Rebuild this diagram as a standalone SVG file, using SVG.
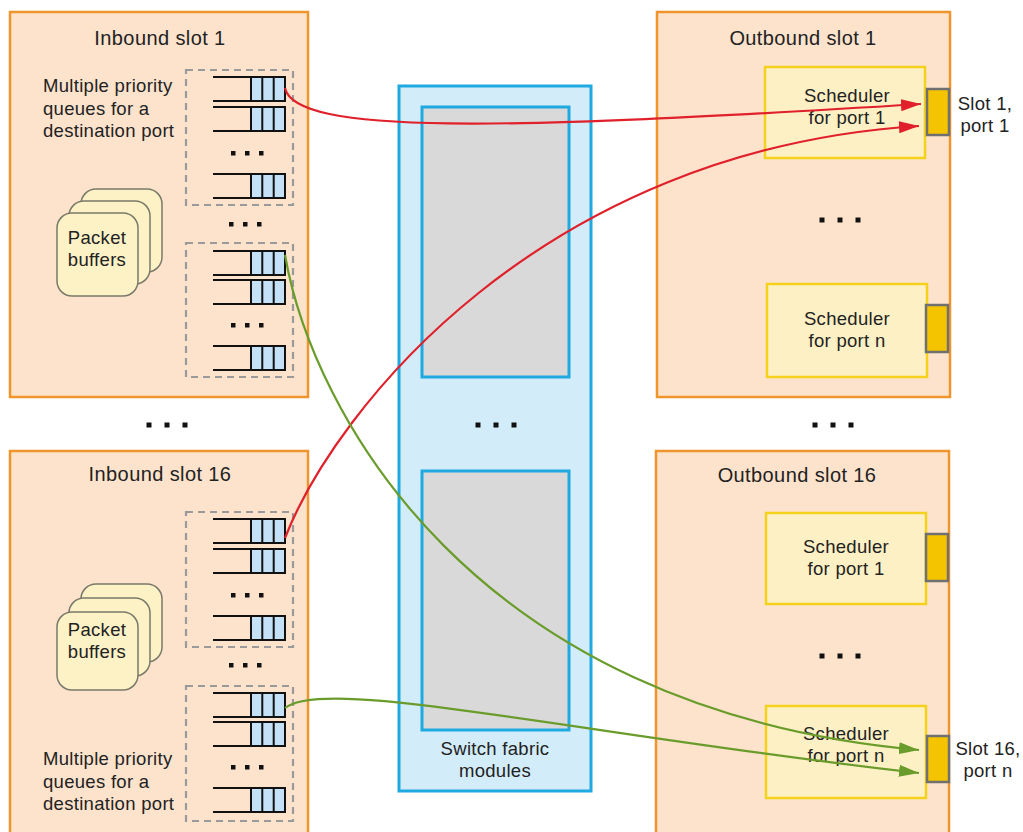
<svg xmlns="http://www.w3.org/2000/svg" xmlns:xlink="http://www.w3.org/1999/xlink" width="1023" height="832" viewBox="0 0 1023 832">
<style>
text{font-family:"Liberation Sans",Arial,sans-serif;fill:#222}
.title{font-size:20px;letter-spacing:0.4px;text-anchor:middle}
.lbl{font-size:18.5px;letter-spacing:0.3px}
.mid{text-anchor:middle}
.slot{fill:#fde3cc;stroke:#f0952c;stroke-width:2.5}
.dash{fill:none;stroke:#9a9a9a;stroke-width:2.2;stroke-dasharray:7 5}
.buf{fill:#fdf1c6;stroke:#7a7a6a;stroke-width:1.5}
.sched{fill:#fdf0c4;stroke:#f4d21c;stroke-width:2.5}
.port{fill:#f5c400;stroke:#707070;stroke-width:2.5}
.fab{fill:#d3ecf9;stroke:#1fa9e1;stroke-width:3}
.mod{fill:#d9d9d9;stroke:#1fa9e1;stroke-width:3}
.red{fill:none;stroke:#e0202a;stroke-width:2.2}
.grn{fill:none;stroke:#6a9c2c;stroke-width:2.2}
</style>
<defs>
<g id="q">
<rect x="38" y="0" width="34" height="24" fill="#c4e1f8" stroke="none"/>
<path d="M0 0H72V24H0M38 0V24M49.3 0V24M60.7 0V24" fill="none" stroke="#111" stroke-width="2"/>
</g>
<g id="d3"><rect x="-2" y="-2" width="4.5" height="4.5" fill="#111"/><rect x="12" y="-2" width="4.5" height="4.5" fill="#111"/><rect x="26" y="-2" width="4.5" height="4.5" fill="#111"/></g>
<g id="d3b"><rect x="-2.5" y="-2.5" width="5" height="5" fill="#111"/><rect x="15.5" y="-2.5" width="5" height="5" fill="#111"/><rect x="33.5" y="-2.5" width="5" height="5" fill="#111"/></g>
<marker id="ar" viewBox="0 0 20 12" refX="20" refY="6" markerWidth="20" markerHeight="12" markerUnits="userSpaceOnUse" orient="auto"><path d="M0 0L20 6L0 12Z" fill="#e0202a"/></marker>
<marker id="ag" viewBox="0 0 20 12" refX="20" refY="6" markerWidth="20" markerHeight="12" markerUnits="userSpaceOnUse" orient="auto"><path d="M0 0L20 6L0 12Z" fill="#6a9c2c"/></marker>
</defs>

<g id="inbound1">
<rect class="slot" x="10" y="12" width="298" height="385"/>
<text class="title" x="160" y="45">Inbound slot 1</text>
<text class="lbl" x="43" y="92">Multiple priority</text>
<text class="lbl" x="43" y="114.5">queues for a</text>
<text class="lbl" x="43" y="137">destination port</text>
<rect class="dash" x="186" y="70" width="107" height="135"/>
<use xlink:href="#q" x="213" y="77"/>
<use xlink:href="#q" x="213" y="107"/>
<use xlink:href="#d3" x="233" y="153"/>
<use xlink:href="#q" x="213" y="174"/>
<use xlink:href="#d3" x="231" y="224"/>
<rect class="dash" x="186" y="243" width="107" height="134"/>
<use xlink:href="#q" x="213" y="251"/>
<use xlink:href="#q" x="213" y="280"/>
<use xlink:href="#d3" x="233" y="325"/>
<use xlink:href="#q" x="213" y="346"/>
<rect class="buf" x="81" y="189" width="81" height="83" rx="15"/>
<rect class="buf" x="69" y="201" width="81" height="83" rx="15"/>
<rect class="buf" x="57" y="213" width="81" height="83" rx="15"/>
<text class="lbl mid" x="97" y="244">Packet</text>
<text class="lbl mid" x="97" y="266">buffers</text>
</g>

<g id="inbound16">
<rect class="slot" x="10" y="451" width="298" height="390"/>
<text class="title" x="160" y="481">Inbound slot 16</text>
<rect class="dash" x="186" y="512" width="107" height="135"/>
<use xlink:href="#q" x="213" y="519"/>
<use xlink:href="#q" x="213" y="549"/>
<use xlink:href="#d3" x="233" y="595"/>
<use xlink:href="#q" x="213" y="616"/>
<use xlink:href="#d3" x="231" y="665"/>
<rect class="dash" x="186" y="686" width="107" height="135"/>
<use xlink:href="#q" x="213" y="693"/>
<use xlink:href="#q" x="213" y="722"/>
<use xlink:href="#d3" x="233" y="767"/>
<use xlink:href="#q" x="213" y="788"/>
<rect class="buf" x="81" y="584" width="81" height="78" rx="15"/>
<rect class="buf" x="69" y="598" width="81" height="78" rx="15"/>
<rect class="buf" x="57" y="612" width="81" height="78" rx="15"/>
<text class="lbl mid" x="97" y="636">Packet</text>
<text class="lbl mid" x="97" y="658">buffers</text>
<text class="lbl" x="43" y="765">Multiple priority</text>
<text class="lbl" x="43" y="787.5">queues for a</text>
<text class="lbl" x="43" y="810">destination port</text>
</g>

<g id="fabric">
<rect class="fab" x="399" y="86" width="192" height="705"/>
<rect class="mod" x="422" y="107" width="147" height="270"/>
<rect class="mod" x="422" y="471" width="147" height="259"/>
<use xlink:href="#d3b" x="478" y="425"/>
<text class="lbl mid" x="495" y="755">Switch fabric</text>
<text class="lbl mid" x="495" y="777">modules</text>
</g>

<g id="outbound1">
<rect class="slot" x="657" y="12" width="293" height="385"/>
<text class="title" x="803" y="45">Outbound slot 1</text>
<rect class="sched" x="765" y="67" width="160" height="91"/>
<text class="lbl mid" x="847" y="102">Scheduler</text>
<text class="lbl mid" x="847" y="124">for port 1</text>
<rect class="port" x="927" y="89" width="22" height="46"/>
<use xlink:href="#d3b" x="822" y="220"/>
<rect class="sched" x="767" y="284" width="160" height="93"/>
<text class="lbl mid" x="847" y="325">Scheduler</text>
<text class="lbl mid" x="847" y="347">for port n</text>
<rect class="port" x="926" y="305" width="22" height="47"/>
</g>
<text class="lbl mid" x="985" y="110">Slot 1,</text>
<text class="lbl mid" x="985" y="132">port 1</text>

<g id="outbound16">
<rect class="slot" x="656" y="451" width="293" height="390"/>
<text class="title" x="797" y="482">Outbound slot 16</text>
<rect class="sched" x="766" y="513" width="160" height="91"/>
<text class="lbl mid" x="846" y="553">Scheduler</text>
<text class="lbl mid" x="846" y="575">for port 1</text>
<rect class="port" x="926" y="534" width="22" height="47"/>
<use xlink:href="#d3b" x="822" y="656"/>
<rect class="sched" x="766" y="706" width="160" height="92"/>
<text class="lbl mid" x="846" y="740">Scheduler</text>
<text class="lbl mid" x="846" y="762">for port n</text>
<rect class="port" x="927" y="736" width="22" height="46"/>
</g>
<text class="lbl mid" x="988" y="755">Slot 16,</text>
<text class="lbl mid" x="988" y="777">port n</text>

<g id="dots">
<use xlink:href="#d3b" x="149" y="425"/>
<use xlink:href="#d3b" x="815" y="425"/>
</g>

<g id="connectors">
<path class="red" d="M285 88C295 135 500 130 921 104" marker-end="url(#ar)"/>
<path class="red" d="M285 538C335 410 540 150 919 126" marker-end="url(#ar)"/>
<path class="grn" d="M285 255C312 410 470 710 919 750" marker-end="url(#ag)"/>
<path class="grn" d="M285 708C325 675 580 735 919 773" marker-end="url(#ag)"/>
</g>
</svg>
